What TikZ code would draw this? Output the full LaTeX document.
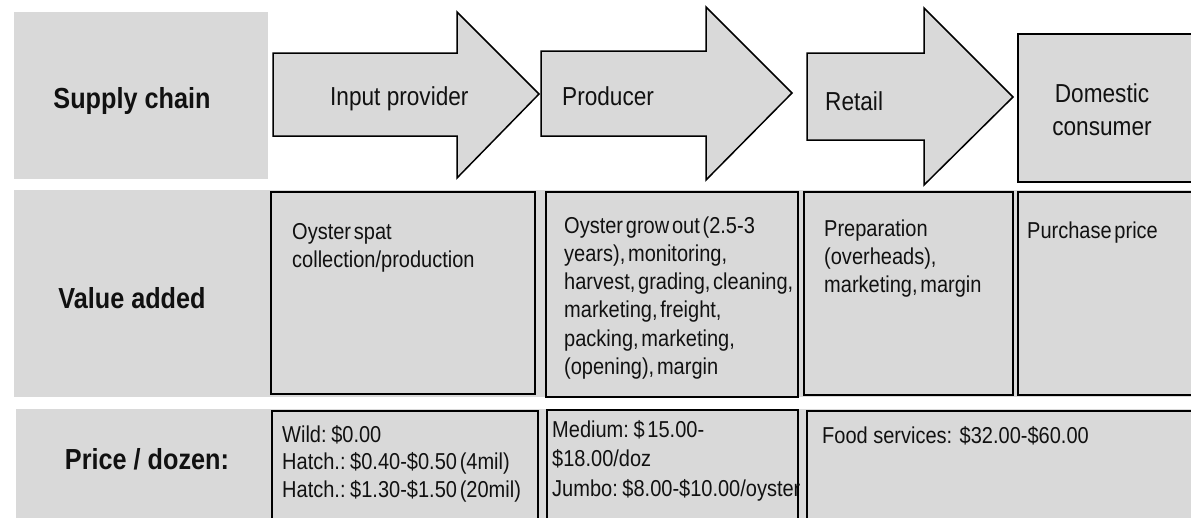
\documentclass[tikz,border=0pt]{standalone}
\usepackage{fontspec}
\setmainfont{Liberation Sans}[FakeStretch=0.87]
\newfontfamily\tightfont{Liberation Sans}[FakeStretch=0.87, WordSpace=0.5]

\definecolor{panel}{HTML}{D9D9D9}
\definecolor{ink}{HTML}{111111}

\tikzset{
  band/.style={fill=panel, draw=none},
  cell/.style={fill=panel, draw=black, line width=1.8pt},
  flow/.style={fill=panel, draw=black, line width=1.5pt, line join=miter},
  rowlabel/.style={font=\fontsize{29}{34}\selectfont\bfseries, text=ink, anchor=base, inner sep=0pt},
  stage/.style={font=\fontsize{26}{33}\selectfont, text=ink, anchor=base west, inner sep=0pt},
  % multi-line notes are placed by the baseline of their last line
  note/.style={font=\fontsize{23}{28.3}\selectfont\tightfont, text=ink, anchor=base west, inner sep=0pt, align=left},
}

\begin{document}
\begin{tikzpicture}[x=1pt, y=-1pt]
  \useasboundingbox (0,0) rectangle (1191,517);
  \clip (0,0) rectangle (1191,517);

  % row backgrounds
  \fill[band] (14,12) rectangle (268,179);
  \fill[band] (14,190) rectangle (1200,397);
  \fill[band] (16,409) rectangle (1200,530);

  % row headings
  \node[rowlabel] (hsupply) at (132,108) {Supply chain};
  \node[rowlabel] (hvalue)  at (132,308) {Value added};
  \node[rowlabel] (hprice)  at (147,469) {Price / dozen:};

  % supply chain stages
  \draw[flow] (273,53) -- (457,53) -- (457,12) -- (539,94) -- (457,178) -- (457,136) -- (273,136) -- cycle;
  \draw[flow] (541,51) -- (706,51) -- (706,7) -- (792,93) -- (706,180) -- (706,136) -- (541,136) -- cycle;
  \draw[flow] (807,53) -- (924,53) -- (924,8) -- (1013,97) -- (924,185) -- (924,140) -- (807,140) -- cycle;
  \draw[flow] (1018,34) rectangle (1200,182);

  \node[stage] (sinput)  at (330,105) {Input provider};
  \node[stage] (sprod)   at (562,105) {Producer};
  \node[stage] (sretail) at (825,110) {Retail};
  \node[stage, anchor=base, align=center] (sdomestic) at (1102,135) {Domestic\\consumer};

  % value added cells
  \draw[cell] (271,192) rectangle (535,394);
  \draw[cell] (546,192) rectangle (798,397);
  \draw[cell] (804,192) rectangle (1013,395);
  \draw[cell] (1018,192) rectangle (1200,395);

  \node[note] (vinput) at (292,267.3) {Oyster spat\\collection/production};
  \node[note] (vprod) at (564,374.5) {Oyster grow out (2.5-3\\years), monitoring,\\harvest, grading, cleaning,\\marketing, freight,\\packing, marketing,\\(opening), margin};
  \node[note] (vretail) at (824,292.6) {Preparation\\(overheads),\\marketing, margin};
  \node[note] (vdomestic) at (1027,238) {Purchase price};

  % price cells
  \draw[cell] (272,411) rectangle (538,530);
  \draw[cell] (547,410) rectangle (798,530);
  \draw[cell] (807,411) rectangle (1200,530);

  \node[note, font=\fontsize{23}{27.5}\selectfont\tightfont] (pinput) at (282,497) {Wild: \$0.00\\Hatch.: \$0.40-\$0.50 (4mil)\\Hatch.: \$1.30-\$1.50 (20mil)};
  \node[note, font=\fontsize{23}{29.5}\selectfont\tightfont] (pprod) at (552,496) {Medium: \$ 15.00-\\\$18.00/doz\\Jumbo: \$8.00-\$10.00/oyster};
  \node[note, font=\fontsize{23}{28.3}\selectfont] (pretail) at (822,443) {Food services: \$32.00-\$60.00};
\end{tikzpicture}
\end{document}
